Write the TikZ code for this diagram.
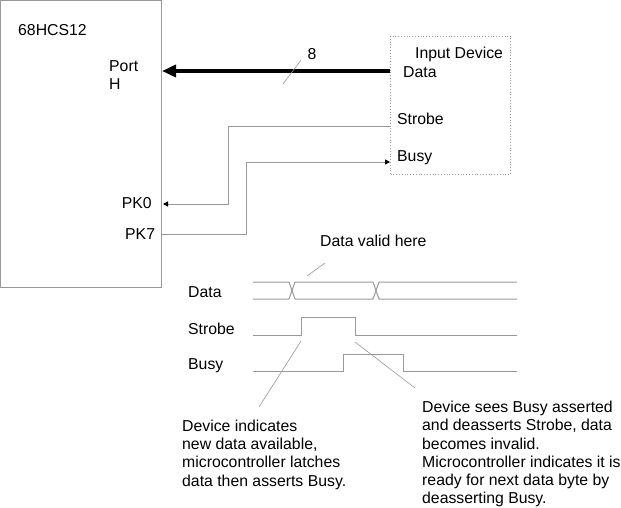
\documentclass[tikz,border=0pt]{standalone}
\usepackage{fontspec}
\setmainfont{Liberation Sans}
\usetikzlibrary{arrows.meta}
\definecolor{linegray}{gray}{0.6}
\begin{document}
\begin{tikzpicture}[x=1pt,y=-1pt,
    txt/.style ={anchor=base west, inner sep=0pt, font=\fontsize{15.8}{18.3}\selectfont},
    caption/.style ={anchor=north west, inner sep=0pt, align=left, font=\fontsize{15.8}{18.3}\selectfont},
    wire/.style ={draw=linegray, line width=1pt},
    pin/.style ={-{Triangle[length=5pt,width=5pt,color=black]}},
    bus/.style ={line width=3.5pt, -{Triangle[length=14pt,width=12pt]}}]
   \useasboundingbox (0,0) rectangle (621,507);
   % the two boxes
   \node[draw=linegray, line width=1pt, minimum width=161pt, minimum height=287pt, inner sep=0pt] (mcu) at (81,144) {};
   \node[draw=linegray, dotted, line width=0.8pt, minimum width=120pt, minimum height=138pt, inner sep=0pt] (dev) at (450.5,105) {};
   \node[txt] (mcuname) at (18,35) {68HCS12};
   \node[txt, align=left, anchor=north west] (porth) at (109,60) {Port\\H};
   \node[txt] (pkzero) at (121.7,208.3) {PK0};
   \node[txt] (pkseven) at (125,239) {PK7};
   \node[txt] (devname) at (415,58.3) {Input Device};
   \node[txt] (devdata) at (403,77) {Data};
   \node[txt] (devstrobe) at (397,124.3) {Strobe};
   \node[txt] (devbusy) at (397,161) {Busy};
   \coordinate (portH) at (162,71);
   \coordinate (dataout) at (dev.west |- portH);
   \coordinate (strobeout) at (390,126);
   \coordinate (pk0) at (163,204);
   \coordinate (pk7) at (162,234);
   \coordinate (busyin) at (390,162);
   % connections
   \draw[bus] (dataout) to (portH);
   \draw[wire, line width=0.6pt] (283,84) -- (301,60);
   \node[txt] (buswidth) at (307.3,59.3) {8};
   \draw[wire, pin] (strobeout) -| (228,204) -- (pk0);
   \draw[wire, pin] (pk7) -| (246,162) -- (busyin);
   % timing
   \node[txt] (validtext) at (320,246) {Data valid here};
   \node[txt] (tdata) at (188,297.3) {Data};
   \node[txt] (tstrobe) at (188,334.3) {Strobe};
   \node[txt] (tbusy) at (188,369.3) {Busy};
   \draw[wire] (253,282) -- (289,282) -- (295,299) -- (373,299) -- (379,282) -- (517,282);
   \draw[wire] (253,299) -- (289,299) -- (295,282) -- (373,282) -- (379,299) -- (517,299);
   \draw[wire] (253,335.5) -- (301.5,335.5) -- (301.5,317.5) -- (355.5,317.5) -- (355.5,335.5) -- (517,335.5);
   \draw[wire] (253,371) -- (343.5,371) -- (343.5,354) -- (403.5,354) -- (403.5,371) -- (517,371);
   \draw[wire, line width=0.6pt] (307,276) -- (325,263);
   \draw[wire, line width=0.6pt] (301,341) -- (259,407);
   \draw[wire, line width=0.6pt] (355,342) -- (415,388);
   \node[caption] (leftnote) at (182,419.5) {Device indicates\\new data available,\\microcontroller latches\\data then asserts Busy.};
   \node[caption] (rightnote) at (422,400.8) {Device sees Busy asserted\\and deasserts Strobe, data\\becomes invalid.\\Microcontroller indicates it is\\ready for next data byte by\\deasserting Busy.};
 \end{tikzpicture}
\end{document}
